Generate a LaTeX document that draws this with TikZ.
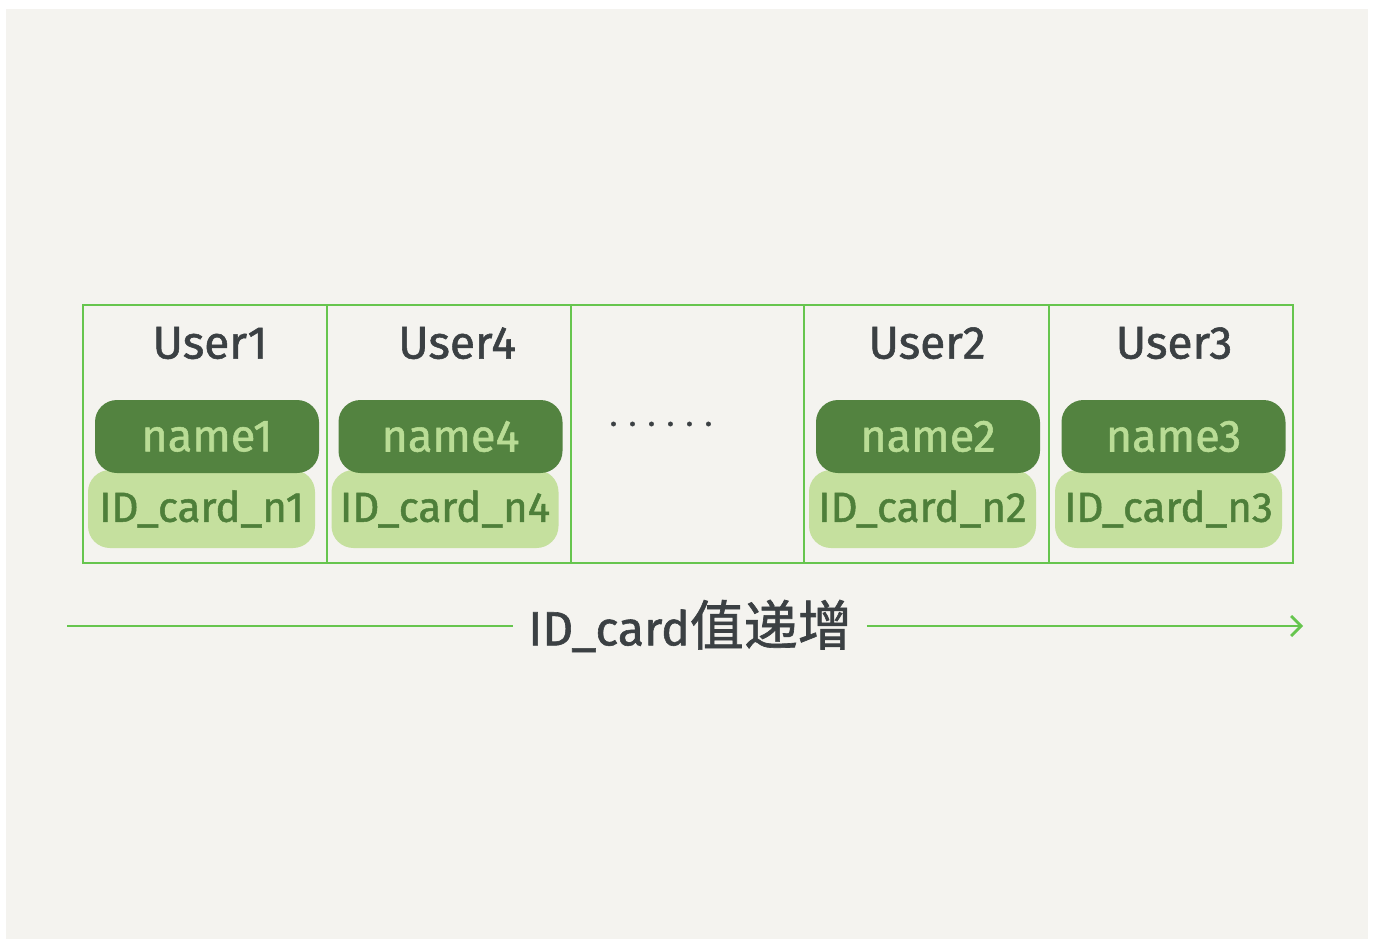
\documentclass[tikz,border=0pt]{standalone}
\usepackage{fontspec}
\setmainfont{Fira Sans}[FakeBold=1.2, AutoFakeBold=1.2]
\newfontfamily\hand{Fira Sans}[FakeBold=1.2]
\newfontfamily\cjk{Noto Sans CJK SC}[FakeBold=1.2]
\usepackage{tikz}
\usetikzlibrary{arrows.meta, positioning}
\definecolor{paper}{HTML}{F4F3EF}
\definecolor{cellgreen}{HTML}{66C54E}
\definecolor{darkpill}{HTML}{538340}
\definecolor{lightpill}{HTML}{C5E09E}
\definecolor{nametext}{HTML}{B9DC95}
\definecolor{idtext}{HTML}{4E7F3A}
\definecolor{inkgray}{HTML}{3B4043}
\begin{document}
\begin{tikzpicture}[x=1pt, y=-1pt,
  cell/.style={draw=cellgreen, line width=2.8pt, minimum width=#1, minimum height=258pt, inner sep=0pt},
  user/.style={text=inkgray, font=\hand\fontsize{46}{50}\selectfont},
  namepill/.style={fill=darkpill, rounded corners=22pt, minimum width=224pt, minimum height=73pt,
    text=nametext, font=\hand\fontsize{45}{50}\selectfont},
  idpill/.style={fill=lightpill, rounded corners=22pt, minimum width=227pt, minimum height=78pt,
    text=idtext, font=\hand\fontsize{42}{46}\selectfont, inner sep=0pt},
  line/.style={draw=cellgreen, line width=2.8pt}]
\useasboundingbox (0,0) rectangle (1375,939);
\fill[white] (0,0) rectangle (1375,939);
\fill[paper] (6,9) rectangle (1368,939);

\node[cell=244pt] (c1) at (205,434) {};
\node[cell=244pt] (c2) at (449,434) {};
\node[cell=233pt] (c3) at (687.5,434) {};
\node[cell=245pt] (c4) at (926.5,434) {};
\node[cell=244pt] (c5) at (1171,434) {};

\node[user] (u1) at (210,343) {User1};
\node[user] (u2) at (457,343) {User4};
\node[user] (u4) at (927,343) {User2};
\node[user] (u5) at (1174,343) {User3};

\node[idpill] (id1) at (201.5,509) {ID\_card\_n1};
\node[idpill] (id2) at (445,509) {ID\_card\_n4};
\node[idpill] (id4) at (922.5,509) {ID\_card\_n2};
\node[idpill] (id5) at (1168.5,509) {ID\_card\_n3};

\node[namepill] (n1) at (207,436.5) {name1};
\node[namepill] (n2) at (450.5,436.5) {name4};
\node[namepill] (n4) at (928,436.5) {name2};
\node[namepill] (n5) at (1173.5,436.5) {name3};

\node[text=inkgray, font=\hand\fontsize{32}{36}\selectfont] (dots) at (661,424) {. . . . . .};

\coordinate (start) at (67,626);
\coordinate (end) at (1303,626);
\node[text=inkgray, font=\hand\fontsize{48}{52}\selectfont, inner xsep=15pt] (lbl) at (690,626)
  {ID\_card{\cjk\fontsize{54}{58}\selectfont 值递增}};
\draw[line] (start) -- (lbl.west);
\draw[line, -{Straight Barb[length=10pt, width=20pt]}] (lbl.east) -- (end);
\end{tikzpicture}
\end{document}
